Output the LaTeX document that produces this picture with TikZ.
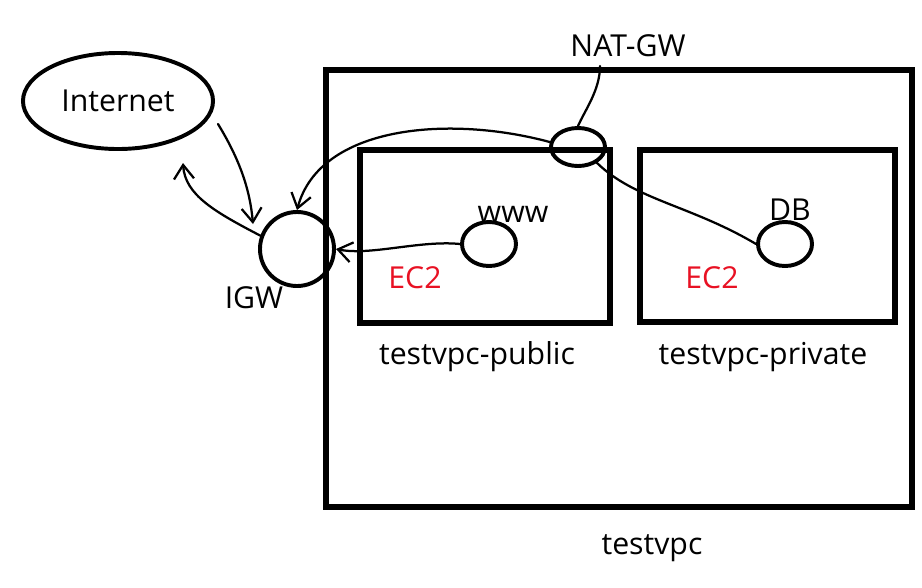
\documentclass[tikz,border=0pt]{standalone}
\usepackage{fontspec}
\setmainfont{Open Sans}
\usepackage{xcolor}
\usepackage{tikz}
\usetikzlibrary{arrows.meta, shapes.geometric, positioning}
\definecolor{ec2red}{HTML}{E81123}

\begin{document}
\begin{tikzpicture}[
    x=0.025cm, y=-0.025cm,
    font=\fontsize{21.5}{25}\selectfont,
    box/.style={black, line width=3.6pt},
    blob/.style={ellipse, draw, line width=2.8pt, inner sep=0pt},
    link/.style={black, line width=1.6pt, line cap=round},
    arrow/.style={link, -{Straight Barb[length=3.5mm, width=5mm, line width=1.6pt]}},
    redlbl/.style={text=ec2red}
]
\useasboundingbox (0,0) rectangle (922,587);

% ---------- boxes ----------
\draw[box] (326,70) rectangle (912,507);
\draw[box] (360,150) rectangle (610,323);
\draw[box] (640,150) rectangle (895,322);
\node (vpclbl) at (652,548) {testvpc};
\node (publbl) at (477,357) {testvpc-public};
\node (privlbl) at (763,357) {testvpc-private};

% ---------- blobs ----------
\node[blob, minimum width=4.75cm, minimum height=2.4cm] (internet) at (118,101) {Internet};
\node[blob, circle, minimum size=1.85cm] (igw) at (297,249) {};
\node (igwlbl) at (254,298) {IGW};
\node[blob, minimum width=1.35cm, minimum height=1.1cm] (www) at (489,244) {};
\node (wwwlbl) at (513,214) {www};
\node[redlbl] (ec2a) at (415,278) {EC2};
\node[blob, minimum width=1.35cm, minimum height=1.1cm] (db) at (785,244) {};
\node (dblbl) at (790,210) {DB};
\node[redlbl] (ec2b) at (712,278) {EC2};
\node[blob, minimum width=1.35cm, minimum height=0.95cm] (nat) at (578,147) {};
\node (natlbl) at (628,46) {NAT-GW};

% ---------- connectors ----------
\coordinate (inetout) at (218,124);
\coordinate (inetin) at (183,163);
\coordinate (natfoot) at (600,66);
\draw[arrow] (inetout) .. controls (240,160) and (250,190) .. (253,224);
\draw[arrow] (igw.160) .. controls (215,212) and (185,195) .. (inetin);
\draw[arrow] (www.west) .. controls (420,240) and (370,256) .. (igw.east);
\draw[arrow] (nat.170) .. controls (450,115) and (320,125) .. (igw.north);
\draw[link] (natfoot) .. controls (600,90) and (585,110) .. (nat.north);
\draw[link] (nat.-40) .. controls (635,200) and (690,205) .. (db.west);

\end{tikzpicture}
\end{document}
